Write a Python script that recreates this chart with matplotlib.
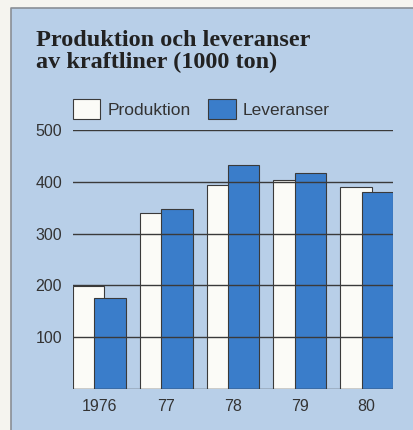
import matplotlib.pyplot as plt
from matplotlib.patches import Rectangle
from matplotlib.lines import Line2D

years = ["1976", "77", "78", "79", "80"]
produktion = [198, 340, 393, 404, 390]
leveranser = [176, 348, 432, 417, 380]
yticks = [100, 200, 300, 400, 500]

bg = "#b8cfe8"
blue = "#3a7dca"
dark = "#3a3a3a"

fig = plt.figure(figsize=(4.14, 4.30), dpi=100)
fig.patch.set_facecolor("#f5f4ef")

# light blue panel, grey border only on the left and top
x0, y0 = 11 / 414, 1 - 8 / 430
fig.patches.append(Rectangle((x0, 0), 1 - x0, y0, transform=fig.transFigure,
                             facecolor=bg, edgecolor="none", zorder=-5))
fig.lines.append(Line2D([x0, x0, 1], [0, y0, y0], transform=fig.transFigure,
                        color="#8a8f96", linewidth=1.2, zorder=-4))

ax = fig.add_axes([73 / 414, 1 - 389 / 430, 320 / 414, (389 - 130) / 430])
ax.set_facecolor("none")

x = range(len(years))
w = 0.47
off = 0.16
b1 = ax.bar([i - off for i in x], produktion, w, color="#fbfbf7", edgecolor=dark,
            linewidth=0.8, zorder=2, label="Produktion")
b2 = ax.bar([i + off for i in x], leveranser, w, color=blue, edgecolor=dark,
            linewidth=0.8, zorder=3, label="Leveranser")

for t in [0] + yticks:
    ax.axhline(t, color=dark, linewidth=1.0, zorder=4)

ax.set_xlim(-off - w / 2, 4 + off + w / 2)
ax.set_ylim(0, 500)
ax.set_yticks(yticks)
ax.set_xticks(list(x))
ax.set_xticklabels(years)
for s in ax.spines.values():
    s.set_visible(False)
ax.tick_params(length=0, labelsize=11.5, labelcolor="#333333", pad=8, labelfontfamily="Liberation Sans")
ax.tick_params(axis="x", pad=7)

fig.text(36 / 414, 1 - 30 / 430, "Produktion och leveranser\nav kraftliner (1000 ton)",
         fontsize=17.5, fontweight="bold", family="Liberation Serif", color="#222222",
         va="top", ha="left", linespacing=1.08)

fig.legend(handles=[b1, b2], loc="upper left", bbox_to_anchor=(57 / 414, 1 - 83 / 430),
           ncol=2, frameon=False, handlelength=1.6, handleheight=1.45, handletextpad=0.4,
           columnspacing=1.0, prop={"family": "Liberation Sans", "size": 12.5},
           labelcolor="#333333")

fig.savefig("out.png", dpi=100, facecolor=fig.get_facecolor())
